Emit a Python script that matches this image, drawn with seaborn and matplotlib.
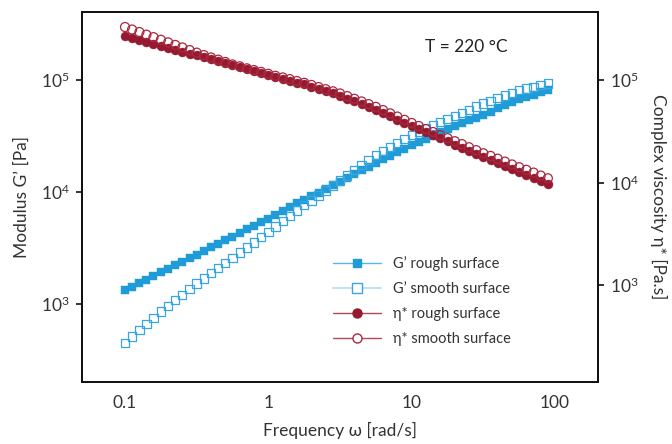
import matplotlib
matplotlib.use("Agg")
import matplotlib.pyplot as plt
import matplotlib.ticker as mticker
from matplotlib.lines import Line2D
import seaborn as sns
import pandas as pd

# ---- data ----
freq = [0.1, 0.112, 0.126, 0.141, 0.158, 0.178, 0.2, 0.224, 0.251, 0.282,
        0.316, 0.355, 0.398, 0.447, 0.501, 0.562, 0.631, 0.708, 0.794, 0.891,
        1.0, 1.12, 1.26, 1.41, 1.58, 1.78, 2.0, 2.24, 2.51, 2.82,
        3.16, 3.55, 3.98, 4.47, 5.01, 5.62, 6.31, 7.08, 7.94, 8.91,
        10.0, 11.2, 12.6, 14.1, 15.8, 17.8, 20.0, 22.4, 25.1, 28.2,
        31.6, 35.5, 39.8, 44.7, 50.1, 56.2, 63.1, 70.8, 79.4, 89.1]

g_rough = [1320, 1420, 1530, 1640, 1770, 1910, 2050, 2210, 2380, 2560,
           2750, 2970, 3190, 3440, 3700, 3980, 4290, 4610, 4970, 5350,
           5750, 6220, 6730, 7280, 7870, 8510, 9160, 9860, 10600, 11400,
           12300, 13300, 14400, 15600, 16800, 18200, 19600, 21100, 22700, 24400,
           26300, 28100, 29900, 31900, 34000, 36300, 38500, 40900, 43500, 46100,
           49000, 52200, 55700, 59400, 63400, 67600, 70800, 74100, 77600, 81300]

g_smooth = [447, 508, 578, 658, 748, 851, 955, 1070, 1200, 1350,
            1510, 1680, 1870, 2080, 2310, 2570, 2860, 3180, 3530, 3930,
            4370, 4880, 5450, 6080, 6790, 7590, 8390, 9290, 10300, 11400,
            12600, 14000, 15600, 17300, 19200, 21400, 23200, 25200, 27400, 29800,
            32400, 34500, 36800, 39300, 41900, 44700, 47600, 50800, 54200, 57800,
            61700, 65200, 68900, 72800, 76900, 81300, 84100, 87100, 90200, 93300]

eta_rough = [266000, 255000, 244000, 234000, 224000, 215000, 206000, 197000, 189000, 181000,
             174000, 166000, 159000, 152000, 146000, 140000, 133000, 128000, 122000, 117000,
             112000, 107000, 103000, 98500, 94400, 90500, 86000, 81800, 77800, 74000,
             70400, 65900, 61800, 57900, 54200, 50800, 47300, 44100, 41100, 38300,
             35700, 33300, 31100, 28900, 27000, 25200, 23400, 21900, 20400, 19000,
             17700, 16600, 15500, 14600, 13600, 12800, 11900, 11100, 10400, 9690]

eta_smooth = [329000, 311000, 294000, 277000, 262000, 247000, 233000, 220000, 208000, 196000,
              185000, 175000, 166000, 158000, 150000, 142000, 136000, 130000, 125000, 120000,
              115000, 110000, 106000, 102000, 97800, 93900, 89500, 85400, 81400, 77600,
              74000, 69700, 65600, 61800, 58200, 54700, 50900, 47300, 44000, 40900,
              38100, 35600, 33200, 31100, 29000, 27100, 25300, 23700, 22100, 20700,
              19300, 18200, 17100, 16000, 15000, 14100, 13300, 12500, 11700, 11000]

labels = ["G\u2019 rough surface", "G\u2019 smooth surface",
          "\u03b7* rough surface", "\u03b7* smooth surface"]

# ---- style ----
sns.set_theme(style="white")
plt.rcParams["font.family"] = ["Lato", "DejaVu Sans"]
plt.rcParams["mathtext.fontset"] = "custom"
plt.rcParams["mathtext.rm"] = "Lato"
plt.rcParams["mathtext.it"] = "Lato:italic"
TXT = "#333333"

BLUE = "#1f9bd8"
BLUE_E = "#3aa6e0"
RED = "#951a30"
RED_E = "#a8283e"

df = pd.DataFrame({"freq": freq, "g_rough": g_rough, "g_smooth": g_smooth,
                   "eta_rough": eta_rough, "eta_smooth": eta_smooth})

fig = plt.figure(figsize=(6.72, 4.44), dpi=100)
ax = fig.add_axes([82 / 672, 62 / 444, 516 / 672, 370 / 444])
ax2 = ax.twinx()

sns.scatterplot(data=df, x="freq", y="g_rough", ax=ax, marker="s", s=36,
                color=BLUE, edgecolor=BLUE, linewidth=0.3, zorder=3)
sns.scatterplot(data=df, x="freq", y="g_smooth", ax=ax, marker="s", s=36,
                facecolors="none", edgecolor=BLUE_E, linewidth=0.9, zorder=4)
sns.scatterplot(data=df, x="freq", y="eta_rough", ax=ax2, marker="o", s=42,
                color=RED, edgecolor=RED, linewidth=0.3, zorder=3)
sns.scatterplot(data=df, x="freq", y="eta_smooth", ax=ax2, marker="o", s=42,
                facecolors="none", edgecolor=RED_E, linewidth=0.9, zorder=4)

for a in (ax, ax2):
    a.set_xscale("log")
    a.set_yscale("log")
    a.set_xlim(0.0501, 199.5)
    a.yaxis.set_minor_locator(mticker.NullLocator())
    a.xaxis.set_minor_locator(mticker.NullLocator())
    for sp in a.spines.values():
        sp.set_color("#111111")
        sp.set_linewidth(1.3)
    a.tick_params(axis="both", which="major", direction="out", length=4,
                  width=1.2, color="#111111", labelsize=12.5, labelcolor=TXT, pad=5)

ax.set_ylim(199, 4.06e5)
ax2.set_ylim(113.2, 4.61e5)
ax.set_xticks([0.1, 1, 10, 100])
ax.set_xticklabels(["0.1", "1", "10", "100"])
ax.set_yticks([1e3, 1e4, 1e5])
ax.set_yticklabels([r"$10^{3}$", r"$10^{4}$", r"$10^{5}$"])
ax2.set_yticks([1e3, 1e4, 1e5])
ax2.set_yticklabels([r"$10^{3}$", r"$10^{4}$", r"$10^{5}$"])

ax.set_xlabel("Frequency \u03c9 [rad/s]", fontsize=12.5, color=TXT, labelpad=8)
ax.set_ylabel("Modulus G\u2019 [Pa]", fontsize=12.5, color=TXT, labelpad=8)
ax2.set_ylabel("Complex viscosity \u03b7* [Pa.s]", fontsize=12.5, color=TXT,
               rotation=-90, labelpad=20)

ax2.text(0.665, 0.905, "T = 220 \u00b0C", transform=ax.transAxes, fontsize=12.5,
         color="#222222", ha="left", va="center")

handles = [
    Line2D([], [], color="#5bb5e3", lw=1.0, marker="s", markersize=6,
           markerfacecolor=BLUE, markeredgecolor=BLUE),
    Line2D([], [], color="#bfe2f4", lw=1.5, marker="s", markersize=6.5,
           markerfacecolor="white", markeredgecolor=BLUE_E, markeredgewidth=1.0),
    Line2D([], [], color="#b04a5c", lw=1.0, marker="o", markersize=6.5,
           markerfacecolor=RED, markeredgecolor=RED),
    Line2D([], [], color="#b04a5c", lw=1.0, marker="o", markersize=6.5,
           markerfacecolor="white", markeredgecolor=RED_E, markeredgewidth=1.0),
]
leg = ax2.legend(handles, labels, loc="center left", bbox_to_anchor=(0.486, 0.219),
                 frameon=False, fontsize=10.5, handlelength=3.3, handletextpad=0.8,
                 labelspacing=0.75, borderpad=0, borderaxespad=0)
for t in leg.get_texts():
    t.set_color(TXT)

fig.savefig("out.png", dpi=100)
